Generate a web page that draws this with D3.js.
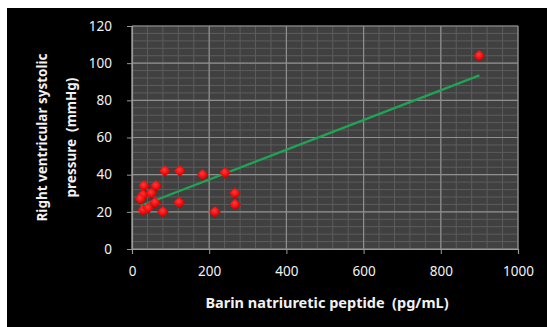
<!DOCTYPE html>
<html>
<head>
<meta charset="utf-8">
<script src="https://cdn.jsdelivr.net/npm/d3@7"></script>
<style>
  html, body { margin: 0; padding: 0; background: #fff; }
  svg { display: block; }
  text { font-family: "Noto Sans", "Open Sans", sans-serif; }
</style>
</head>
<body>
<svg id="chart" width="547" height="327"></svg>
<script>
// BNP (pg/mL) against right ventricular systolic pressure (mmHg)
const bnp  = [31, 62, 85, 124, 183, 241, 267, 267, 215, 122, 80, 28, 50, 29, 42, 60, 22, 900];
const rvsp = [34, 34, 42, 42, 40, 41, 30, 24, 20, 25, 20, 29, 30, 21, 22, 25, 27, 104];

const xTicks = [0, 200, 400, 600, 800, 1000];
const yTicks = [0, 20, 40, 60, 80, 100, 120];
const xMinorStep = 40;
const yMinorStep = 4;

const xTitle = "Barin natriuretic peptide  (pg/mL)";
const yTitleLines = ["Right ventricular systolic", "pressure  (mmHg)"];

const W = 547, H = 327;
const plot = { left: 132, right: 518, top: 26, bottom: 249 };

const svg = d3.select("#chart");

// black chart panel with a thin white border at left and top
svg.append("rect").attr("x", 0).attr("y", 0).attr("width", W).attr("height", H).attr("fill", "#fff");
svg.append("rect").attr("x", 7).attr("y", 8).attr("width", W - 7).attr("height", H - 8).attr("fill", "#000");

const x = d3.scaleLinear().domain([0, 1000]).range([plot.left, plot.right]);
const y = d3.scaleLinear().domain([0, 120]).range([plot.bottom, plot.top]);

// plot area
svg.append("rect")
  .attr("x", plot.left).attr("y", plot.top)
  .attr("width", plot.right - plot.left).attr("height", plot.bottom - plot.top)
  .attr("fill", "#404040");

const grid = svg.append("g");
// minor gridlines
grid.selectAll("line.xminor").data(d3.range(0, 1000 + 1e-9, xMinorStep)).join("line")
  .attr("x1", d => x(d)).attr("x2", d => x(d))
  .attr("y1", plot.top).attr("y2", plot.bottom)
  .attr("stroke", "#5c5c5c").attr("stroke-width", 1);
grid.selectAll("line.yminor").data(d3.range(0, 120 + 1e-9, yMinorStep)).join("line")
  .attr("x1", plot.left).attr("x2", plot.right)
  .attr("y1", d => y(d)).attr("y2", d => y(d))
  .attr("stroke", "#5c5c5c").attr("stroke-width", 1);
// major gridlines
grid.selectAll("line.xmajor").data(xTicks).join("line")
  .attr("x1", d => x(d)).attr("x2", d => x(d))
  .attr("y1", plot.top).attr("y2", plot.bottom)
  .attr("stroke", "#8f8f8f").attr("stroke-width", 1.2);
grid.selectAll("line.ymajor").data(yTicks).join("line")
  .attr("x1", plot.left).attr("x2", plot.right)
  .attr("y1", d => y(d)).attr("y2", d => y(d))
  .attr("stroke", "#8f8f8f").attr("stroke-width", 1.2);

// axes
const xAxis = svg.append("g")
  .attr("transform", `translate(0,${plot.bottom})`)
  .call(d3.axisBottom(x).tickValues(xTicks).tickSize(5).tickPadding(12).tickFormat(d3.format("d")));
const yAxis = svg.append("g")
  .attr("transform", `translate(${plot.left},0)`)
  .call(d3.axisLeft(y).tickValues(yTicks).tickSize(5).tickPadding(15).tickFormat(d3.format("d")));
[xAxis, yAxis].forEach(a => {
  a.select(".domain").attr("stroke", "#9a9a9a").attr("stroke-width", 1.2);
  a.selectAll(".tick line").attr("stroke", "#9a9a9a");
  a.selectAll(".tick text").attr("fill", "#f2f2f2").attr("font-size", 13.5);
});

// least-squares trend line over the observed range
const n = bnp.length;
const mx = d3.mean(bnp), my = d3.mean(rvsp);
let sxy = 0, sxx = 0;
for (let i = 0; i < n; i++) { sxy += (bnp[i] - mx) * (rvsp[i] - my); sxx += (bnp[i] - mx) ** 2; }
const slope = sxy / sxx, intercept = my - slope * mx;
const [xmin, xmax] = d3.extent(bnp);
svg.append("line")
  .attr("x1", x(xmin)).attr("y1", y(intercept + slope * xmin))
  .attr("x2", x(xmax)).attr("y2", y(intercept + slope * xmax))
  .attr("stroke", "#1fa456").attr("stroke-width", 2.2);

// red diamond markers with a slight shaded look
const defs = svg.append("defs");
const grad = defs.append("radialGradient").attr("id", "mk").attr("cx", "45%").attr("cy", "40%").attr("r", "60%");
grad.append("stop").attr("offset", "0%").attr("stop-color", "#ff3a3a");
grad.append("stop").attr("offset", "70%").attr("stop-color", "#f00000");
grad.append("stop").attr("offset", "100%").attr("stop-color", "#b00000");

const sym = d3.symbol().type(d3.symbolDiamond2).size(88);
svg.append("g").selectAll("path").data(d3.range(n)).join("path")
  .attr("d", sym)
  .attr("transform", i => `translate(${x(bnp[i])},${y(rvsp[i])})`)
  .attr("fill", "url(#mk)");

// axis titles
svg.append("text")
  .attr("x", (plot.left + plot.right) / 2 + 2).attr("y", 308)
  .attr("text-anchor", "middle").attr("fill", "#f2f2f2")
  .attr("font-size", 14.5).attr("font-weight", "bold")
  .attr("xml:space", "preserve")
  .text(xTitle);

const yt = svg.append("text")
  .attr("transform", `translate(47,${(plot.top + plot.bottom) / 2}) rotate(-90)`)
  .attr("text-anchor", "middle").attr("fill", "#f2f2f2")
  .attr("font-size", 13.5).attr("font-weight", "bold")
  .attr("xml:space", "preserve");
yTitleLines.forEach((t, i) => yt.append("tspan").attr("x", 0).attr("dy", i === 0 ? 0 : 29).text(t));
</script>
</body>
</html>
